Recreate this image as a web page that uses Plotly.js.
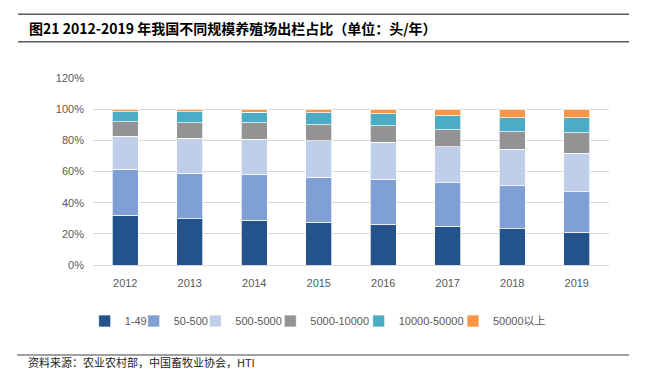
<!DOCTYPE html>
<html>
<head>
<meta charset="utf-8">
<script src="https://cdn.plot.ly/plotly-3.0.1.min.js"></script>
<style>html,body{margin:0;padding:0;background:#fff;}#chart{width:649px;height:369px;}</style>
</head>
<body>
<div id="chart"></div>
<script>
// ---- data ----
const years = ['2012','2013','2014','2015','2016','2017','2018','2019'];
const seriesNames = ['1-49','50-500','500-5000','5000-10000','10000-50000','50000以上'];
const s1_49        = [31.8, 29.7, 28.8, 27.5, 26.0, 24.9, 23.4, 20.9];
const s50_500      = [29.5, 29.2, 29.3, 28.8, 29.1, 28.0, 27.4, 26.0];
const s500_5000    = [21.3, 22.4, 22.5, 23.5, 23.6, 23.0, 23.4, 24.7];
const s5000_10000  = [9.4, 10.1, 10.6, 10.3, 10.8, 11.0, 11.4, 13.3];
const s10000_50000 = [6.5, 6.9, 6.9, 7.5, 7.5, 8.8, 9.0, 9.7];
const s50000plus   = [1.5, 1.7, 1.9, 2.4, 3.0, 4.3, 5.4, 5.4];
const yTicks = [0, 20, 40, 60, 80, 100, 120];
const titleText = '图21 2012-2019 年我国不同规模养殖场出栏占比（单位：头/年）';
const sourceText = '资料来源：农业农村部，中国畜牧业协会，HTI';

// ---- styling ----
const colors = ['#23538A', '#809FD4', '#BFCFE9', '#939393', '#4BACC6', '#F79646'];
const allSeries = [s1_49, s50_500, s500_5000, s5000_10000, s10000_50000, s50000plus];

const W = 649, H = 369;
const M = {l: 93, r: 40, t: 78, b: 104};
const PW = W - M.l - M.r, PH = H - M.t - M.b;
const px = x => (x - M.l) / PW;
const py = y => (H - M.b - y) / PH;

const legendTextX = [117.7, 166.7, 228.3, 303.3, 391.7, 486]; // text starts (pixels)
const legendNames = ['legend','legend2','legend3','legend4','legend5','legend6'];

const traces = allSeries.map((vals, i) => ({
  type: 'bar',
  name: seriesNames[i],
  x: years,
  y: vals,
  legend: legendNames[i],
  marker: {color: colors[i], line: {color: 'rgba(255,255,255,0.7)', width: 1}},
  hoverinfo: 'x+y+name'
}));

const baseFont = {family: '"Liberation Sans", Arial, "Noto Sans CJK SC", sans-serif', size: 11, color: '#595959'};

const layout = {
  width: W, height: H,
  margin: M,
  paper_bgcolor: '#fff', plot_bgcolor: '#fff',
  barmode: 'stack',
  bargap: 0.6,
  font: baseFont,
  xaxis: {
    type: 'category',
    showgrid: false,
    showline: true, linecolor: '#D9D9D9', linewidth: 1,
    ticks: '', tickfont: baseFont,
    ticklabelstandoff: 8,
    fixedrange: true
  },
  yaxis: {
    range: [0, 120],
    tickvals: yTicks,
    ticktext: yTicks.map(v => v + '%'),
    showgrid: true, gridcolor: '#D9D9D9', gridwidth: 1,
    zeroline: false, showline: false,
    ticks: '', tickfont: baseFont,
    ticklabelstandoff: 8,
    fixedrange: true
  },
  shapes: [
    {type: 'line', xref: 'paper', yref: 'paper', x0: px(18), x1: px(629), y0: py(14.3), y1: py(14.3), line: {color: '#595959', width: 1.5}},
    {type: 'line', xref: 'paper', yref: 'paper', x0: px(18), x1: px(629), y0: py(41.7), y1: py(41.7), line: {color: '#595959', width: 1.5}},
    {type: 'line', xref: 'paper', yref: 'paper', x0: px(17), x1: px(629), y0: py(355), y1: py(355), line: {color: '#808080', width: 1.5}}
  ],
  annotations: [
    {xref: 'paper', yref: 'paper', x: px(27), y: py(28.3), xanchor: 'left', yanchor: 'middle', showarrow: false,
     text: '<b>' + titleText + '</b>', font: {family: '"Noto Sans CJK SC", sans-serif', size: 14, color: '#000'}},
    {xref: 'paper', yref: 'paper', x: px(27), y: py(361.5), xanchor: 'left', yanchor: 'middle', showarrow: false,
     borderpad: 0,
     text: sourceText, font: {family: '"Noto Sans CJK SC", sans-serif', size: 11, color: '#222'}}
  ],
  showlegend: true
};

legendNames.forEach((ln, i) => {
  layout[ln] = {
    orientation: 'h',
    x: px(legendTextX[i] - 33), xanchor: 'left',
    y: py(321), yanchor: 'middle',
    font: baseFont,
    bgcolor: 'rgba(0,0,0,0)',
    borderwidth: 0,
    itemclick: false, itemdoubleclick: false
  };
});

Plotly.newPlot('chart', traces, layout, {displayModeBar: false, staticPlot: true});
</script>
</body>
</html>
